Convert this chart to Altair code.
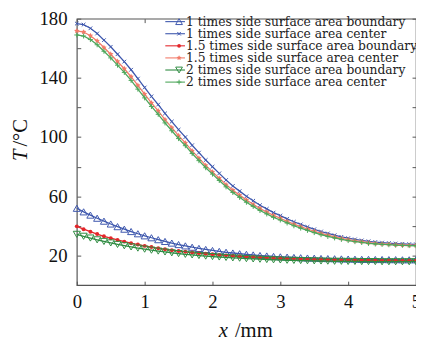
import altair as alt
import pandas as pd

X = [0.0, 0.1, 0.2, 0.3, 0.4, 0.5, 0.6, 0.7, 0.8, 0.9,
     1.0, 1.1, 1.2, 1.3, 1.4, 1.5, 1.6, 1.7, 1.8, 1.9,
     2.0, 2.1, 2.2, 2.3, 2.4, 2.5, 2.6, 2.7, 2.8, 2.9,
     3.0, 3.1, 3.2, 3.3, 3.4, 3.5, 3.6, 3.7, 3.8, 3.9,
     4.0, 4.1, 4.2, 4.3, 4.4, 4.5, 4.6, 4.7, 4.8, 4.9, 5.0]

B1 = [51.9, 49.5, 47.3, 45.2, 43.2, 41.3, 39.5, 37.8, 36.2, 34.7,
      33.3, 32.0, 30.7, 29.5, 28.4, 27.4, 26.5, 25.6, 24.8, 24.1,
      23.4, 22.8, 22.2, 21.7, 21.2, 20.8, 20.4, 20.0, 19.7, 19.4,
      19.1, 18.9, 18.7, 18.5, 18.3, 18.2, 18.0, 17.9, 17.8, 17.7,
      17.6, 17.5, 17.4, 17.4, 17.3, 17.3, 17.2, 17.2, 17.1, 17.1, 17.1]
C1 = [176.7, 176.0, 173.5, 170.0, 165.5, 161.0, 156.0, 151.0, 145.5, 139.5,
      133.5, 127.5, 122.0, 116.0, 110.5, 105.0, 100.0, 94.5, 89.5, 84.5,
      80.0, 75.5, 71.0, 67.0, 63.5, 60.0, 57.0, 54.0, 51.5, 49.0,
      47.0, 44.8, 42.8, 41.0, 39.3, 37.7, 36.2, 34.9, 33.7, 32.6,
      31.7, 30.9, 30.2, 29.6, 29.1, 28.7, 28.4, 28.1, 27.9, 27.7, 27.6]
B15 = [39.7, 37.8, 36.1, 34.5, 33.0, 31.7, 30.5, 29.4, 28.3, 27.4,
       26.5, 25.7, 24.9, 24.2, 23.6, 23.0, 22.5, 22.0, 21.6, 21.2,
       20.8, 20.4, 20.1, 19.8, 19.5, 19.2, 19.0, 18.7, 18.5, 18.3,
       18.1, 17.9, 17.8, 17.6, 17.5, 17.4, 17.3, 17.2, 17.1, 17.0,
       16.9, 16.9, 16.8, 16.8, 16.7, 16.7, 16.7, 16.6, 16.6, 16.6, 16.6]
C15 = [171.7, 171.0, 168.5, 165.0, 160.5, 156.0, 151.1, 146.2, 140.8, 134.9,
       129.0, 123.1, 117.7, 111.8, 106.4, 101.0, 96.1, 90.7, 85.8, 80.9,
       76.5, 72.2, 67.9, 64.1, 60.8, 57.5, 54.6, 51.8, 49.4, 47.1,
       45.2, 43.1, 41.2, 39.5, 37.9, 36.4, 35.0, 33.7, 32.6, 31.6,
       30.7, 29.9, 29.3, 28.7, 28.2, 27.9, 27.6, 27.3, 27.1, 26.9, 26.8]
B2 = [34.3, 33.0, 31.8, 30.6, 29.5, 28.5, 27.5, 26.6, 25.8, 25.0,
      24.3, 23.6, 23.0, 22.4, 21.8, 21.3, 20.8, 20.4, 20.0, 19.6,
      19.3, 19.0, 18.7, 18.4, 18.2, 17.9, 17.7, 17.5, 17.3, 17.1,
      17.0, 16.8, 16.7, 16.6, 16.5, 16.4, 16.3, 16.2, 16.1, 16.1,
      16.0, 16.0, 15.9, 15.9, 15.9, 15.8, 15.8, 15.8, 15.8, 15.8, 15.8]
C2 = [169.0, 168.3, 165.9, 162.4, 158.0, 153.5, 148.6, 143.7, 138.3, 132.4,
      126.5, 120.7, 115.4, 109.6, 104.3, 99.0, 94.2, 88.9, 84.1, 79.3,
      75.0, 70.7, 66.4, 62.6, 59.3, 56.0, 53.2, 50.4, 48.1, 45.8,
      44.0, 42.0, 40.1, 38.5, 37.0, 35.5, 34.1, 32.9, 31.9, 30.9,
      30.1, 29.4, 28.8, 28.2, 27.8, 27.5, 27.3, 27.0, 26.9, 26.7, 26.6]

LABELS = ["1 times side surface area boundary",
          "1 times side surface area center",
          "1.5 times side surface area boundary",
          "1.5 times side surface area center",
          "2 times side surface area boundary",
          "2 times side surface area center"]
SERIES = [B1, C1, B15, C15, B2, C2]

X_TITLE = ["x", "/mm"]
Y_TITLE = ["T", "/°C"]

X_PATH = "M-1,-1L1,1M-1,1L1,-1"
PLUS_PATH = "M-1,0L1,0M0,-1L0,1"
STAR_PATH = ("M0,-1L0.29,-0.4L0.95,-0.31L0.47,0.15L0.59,0.81L0,0.5"
             "L-0.59,0.81L-0.47,0.15L-0.95,-0.31L-0.29,-0.4Z")

STYLES = [
    dict(color="#3d57ad", shape="triangle-up", filled=False, size=52, sw=1.0),
    dict(color="#3d57ad", shape=X_PATH, filled=False, size=14, sw=1.0),
    dict(color="#e3262a", shape="circle", filled=True, size=16, sw=0.5),
    dict(color="#f27a68", shape=STAR_PATH, filled=True, size=34, sw=0.5),
    dict(color="#2e8b40", shape="triangle-down", filled=False, size=52, sw=1.0),
    dict(color="#4da65a", shape=PLUS_PATH, filled=False, size=26, sw=1.0),
]

SERIF = "Liberation Serif"
xs = alt.Scale(domain=[0, 5], nice=False)
ys = alt.Scale(domain=[0, 180], nice=False)
FRAME = "#555555"

base_df = pd.DataFrame({"x": X, "T": C1})

def tick_layer(xaxis, yaxis):
    return alt.Chart(base_df).mark_point(opacity=0).encode(
        x=alt.X("x:Q", scale=xs, axis=xaxis),
        y=alt.Y("T:Q", scale=ys, axis=yaxis),
    )

common = dict(labelFont=SERIF, labelFontSize=19, labelColor="#111111",
              grid=False, domain=False, tickSize=0, title=None,
              labelFlush=False, labelOverlap=False)

main_axes = tick_layer(
    alt.Axis(values=[0, 1, 2, 3, 4, 5], labelPadding=8, **common),
    alt.Axis(values=[20, 60, 100, 140, 180], labelPadding=10, **common),
)

def tick_axis(orient, values):
    return alt.Axis(orient=orient, values=values, tickSize=4, offset=-4, labels=False,
                    domain=False, title=None, tickColor=FRAME, tickWidth=1, grid=False,
                    zindex=0)

XT = [0, 1, 2, 3, 4, 5]
YT = [20, 40, 60, 80, 100, 120, 140, 160, 180]
ticks = [
    tick_layer(tick_axis("bottom", XT), None),
    tick_layer(tick_axis("top", XT), None),
    tick_layer(None, tick_axis("left", YT)),
    tick_layer(None, tick_axis("right", YT)),
]

series_layers = []
for vals, st in zip(SERIES, STYLES):
    df = pd.DataFrame({"x": X, "T": vals})
    enc = dict(x=alt.X("x:Q", scale=xs, axis=None), y=alt.Y("T:Q", scale=ys, axis=None))
    series_layers.append(
        alt.Chart(df).mark_line(color=st["color"], strokeWidth=1.3).encode(**enc))
    series_layers.append(
        alt.Chart(df).mark_point(color=st["color"], shape=st["shape"], filled=st["filled"],
                                 size=st["size"], strokeWidth=st["sw"], opacity=1).encode(**enc))

legend_layers = []
for i, (lab, st) in enumerate(zip(LABELS, STYLES)):
    ypix = 3 + 12.3 * i
    ldf = pd.DataFrame({"label": [lab]})
    legend_layers.append(alt.Chart(ldf).mark_rule(color=st["color"], strokeWidth=1.1).encode(
        x=alt.value(90), x2=alt.value(110), y=alt.value(ypix)))
    legend_layers.append(alt.Chart(ldf).mark_point(
        color=st["color"], shape=st["shape"], filled=st["filled"],
        size=st["size"] * 0.9, strokeWidth=st["sw"], opacity=1).encode(
        x=alt.value(104), y=alt.value(ypix)))
    legend_layers.append(alt.Chart(ldf).mark_text(
        align="left", baseline="middle", font="DejaVu Serif", fontSize=12.5,
        color="#222222").encode(
        x=alt.value(111), y=alt.value(ypix), text="label:N"))

# axis titles (italic variable + upright unit)
def title_text(txt, italic, xpix, ypix, angle=0):
    kw = dict(align="center", baseline="middle", font=SERIF, fontSize=21,
              color="#111111", angle=angle)
    if italic:
        kw["fontStyle"] = "italic"
    return alt.Chart(pd.DataFrame({"t": [txt]})).mark_text(**kw).encode(
        x=alt.value(xpix), y=alt.value(ypix), text="t:N")

titles = [
    title_text(X_TITLE[0], True, 149, 318),
    title_text(X_TITLE[1], False, 180, 318),
    title_text(Y_TITLE[0], True, -57, 139, angle=270),
    title_text(Y_TITLE[1], False, -57, 116, angle=270),
]

chart = alt.layer(main_axes, *ticks, *series_layers, *legend_layers, *titles).resolve_axis(
    x="independent", y="independent"
).properties(
    width=345, height=271,
    padding={"left": 70, "top": 8, "right": 0, "bottom": 56},
    autosize=alt.AutoSizeParams(type="none"),
).configure_view(
    stroke=FRAME, strokeWidth=1.2
)

chart.save("out.html", embed_options={"renderer": "svg", "actions": False})
